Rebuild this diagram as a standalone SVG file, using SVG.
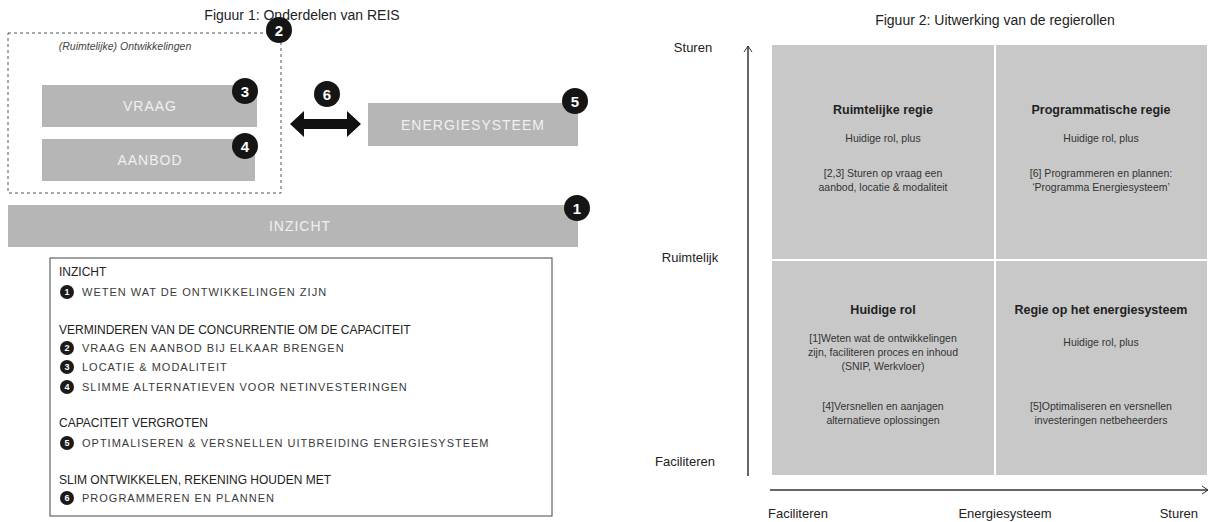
<svg xmlns="http://www.w3.org/2000/svg" width="1214" height="522" viewBox="0 0 1214 522">
<style>
  text { font-family: "Liberation Sans", Arial, sans-serif; }
  .title { font-size: 14px; fill: #222; text-anchor: middle; }
  .box { fill: #b6b6b6; }
  .boxt { font-size: 14px; fill: #f0f0f0; letter-spacing: 1px; text-anchor: middle; }
  .badge { fill: #151515; }
  .bn { font-size: 15px; font-weight: bold; fill: #ffffff; text-anchor: middle; }
  .sb { fill: #1a1a1a; }
  .sbn { font-size: 9px; font-weight: bold; fill: #ffffff; text-anchor: middle; }
  .lh { font-size: 12px; fill: #222; }
  .li { font-size: 11px; fill: #3a3a3a; letter-spacing: 1px; }
  .quad { fill: #c8c8c8; }
  .qh { font-size: 12.5px; font-weight: bold; fill: #222; text-anchor: middle; }
  .qt { font-size: 10.5px; fill: #333; text-anchor: middle; }
  .ax { font-size: 13px; fill: #222; }
  .axis { stroke: #333; stroke-width: 1.5; fill: none; }
</style>
<defs>
  <marker id="ah" markerWidth="10" markerHeight="10" refX="8" refY="5" orient="auto" markerUnits="userSpaceOnUse">
    <path d="M2,1 L8,5 L2,9" fill="none" stroke="#333" stroke-width="1"/>
  </marker>
</defs>

<!-- Figure 1 -->
<text id="fig1-title" class="title" x="302" y="20">Figuur 1: Onderdelen van REIS</text>

<g id="node-ontwikkelingen">
  <rect x="8" y="33" width="273" height="160" fill="none" stroke="#555" stroke-width="1" stroke-dasharray="3,3"/>
  <text x="125" y="50" font-size="10.5" font-style="italic" fill="#444" text-anchor="middle">(Ruimtelijke) Ontwikkelingen</text>
  <circle class="badge" cx="279" cy="30" r="13"/>
  <text class="bn" x="279" y="35.5">2</text>
</g>

<g id="node-vraag">
  <rect class="box" x="42" y="85" width="215" height="42"/>
  <text class="boxt" x="150" y="111">VRAAG</text>
  <circle class="badge" cx="245" cy="91" r="13"/>
  <text class="bn" x="245" y="96.5">3</text>
</g>

<g id="node-aanbod">
  <rect class="box" x="42" y="139" width="213" height="42"/>
  <text class="boxt" x="150" y="165">AANBOD</text>
  <circle class="badge" cx="245" cy="146" r="13"/>
  <text class="bn" x="245" y="151.5">4</text>
</g>

<g id="node-energiesysteem">
  <rect class="box" x="368" y="103" width="210" height="43"/>
  <text class="boxt" x="473" y="130">ENERGIESYSTEEM</text>
  <circle class="badge" cx="575" cy="101" r="13"/>
  <text class="bn" x="575" y="106.5">5</text>
</g>

<g id="node-inzicht">
  <rect class="box" x="8" y="205" width="570" height="42"/>
  <text class="boxt" x="300" y="231">INZICHT</text>
  <circle class="badge" cx="577" cy="208" r="13"/>
  <text class="bn" x="577" y="213.5">1</text>
</g>

<g id="connectors">
  <polygon points="290,124 304,111 304,119 347,119 347,111 361,124 347,137 347,129 304,129 304,137" fill="#111"/>
  <circle class="badge" cx="327" cy="94" r="13"/>
  <text class="bn" x="327" y="99.5">6</text>
</g>

<g id="legend">
  <rect x="50" y="258" width="502" height="258" fill="#fff" stroke="#444" stroke-width="1"/>
  <text class="lh" x="59" y="276">INZICHT</text>
  <circle class="sb" cx="67" cy="292" r="7"/><text class="sbn" x="67" y="295">1</text>
  <text class="li" x="82" y="296">WETEN WAT DE ONTWIKKELINGEN ZIJN</text>

  <text class="lh" x="59" y="334">VERMINDEREN VAN DE CONCURRENTIE OM DE CAPACITEIT</text>
  <circle class="sb" cx="67" cy="348" r="7"/><text class="sbn" x="67" y="351">2</text>
  <text class="li" x="82" y="352">VRAAG EN AANBOD BIJ ELKAAR BRENGEN</text>
  <circle class="sb" cx="67" cy="367" r="7"/><text class="sbn" x="67" y="370">3</text>
  <text class="li" x="82" y="371">LOCATIE &amp; MODALITEIT</text>
  <circle class="sb" cx="67" cy="387" r="7"/><text class="sbn" x="67" y="390">4</text>
  <text class="li" x="82" y="391">SLIMME ALTERNATIEVEN VOOR NETINVESTERINGEN</text>

  <text class="lh" x="59" y="427">CAPACITEIT VERGROTEN</text>
  <circle class="sb" cx="67" cy="443" r="7"/><text class="sbn" x="67" y="446">5</text>
  <text class="li" x="82" y="447">OPTIMALISEREN &amp; VERSNELLEN UITBREIDING ENERGIESYSTEEM</text>

  <text class="lh" x="59" y="484">SLIM ONTWIKKELEN, REKENING HOUDEN MET</text>
  <circle class="sb" cx="67" cy="498" r="7"/><text class="sbn" x="67" y="501">6</text>
  <text class="li" x="82" y="502">PROGRAMMEREN EN PLANNEN</text>
</g>

<!-- Figure 2 -->
<text id="fig2-title" class="title" x="995" y="25" font-size="13.5">Figuur 2: Uitwerking van de regierollen</text>

<g id="quad-ruimtelijke-regie">
  <rect class="quad" x="772" y="45" width="222" height="214"/>
  <text class="qh" x="883" y="114">Ruimtelijke regie</text>
  <text class="qt" x="883" y="142">Huidige rol, plus</text>
  <text class="qt" x="883" y="177">[2,3] Sturen op vraag een</text>
  <text class="qt" x="883" y="191">aanbod, locatie &amp; modaliteit</text>
</g>
<g id="quad-programmatische-regie">
  <rect class="quad" x="996" y="45" width="211" height="214"/>
  <text class="qh" x="1101" y="114">Programmatische regie</text>
  <text class="qt" x="1101" y="142">Huidige rol, plus</text>
  <text class="qt" x="1101" y="177">[6] Programmeren en plannen:</text>
  <text class="qt" x="1101" y="191">‘Programma Energiesysteem’</text>
</g>
<g id="quad-huidige-rol">
  <rect class="quad" x="772" y="261" width="222" height="214"/>
  <text class="qh" x="883" y="314">Huidige rol</text>
  <text class="qt" x="883" y="342">[1]Weten wat de ontwikkelingen</text>
  <text class="qt" x="883" y="356">zijn, faciliteren proces en inhoud</text>
  <text class="qt" x="883" y="370">(SNIP, Werkvloer)</text>
  <text class="qt" x="883" y="410">[4]Versnellen en aanjagen</text>
  <text class="qt" x="883" y="424">alternatieve oplossingen</text>
</g>
<g id="quad-regie-energiesysteem">
  <rect class="quad" x="996" y="261" width="211" height="214"/>
  <text class="qh" x="1101" y="314">Regie op het energiesysteem</text>
  <text class="qt" x="1101" y="346">Huidige rol, plus</text>
  <text class="qt" x="1101" y="410">[5]Optimaliseren en versnellen</text>
  <text class="qt" x="1101" y="424">investeringen netbeheerders</text>
</g>

<g id="axes">
  <line class="axis" x1="748" y1="476" x2="748" y2="46" marker-end="url(#ah)"/>
  <line class="axis" x1="770" y1="490" x2="1208" y2="490" marker-end="url(#ah)"/>
</g>

<g id="axis-labels">
  <text class="ax" x="693" y="52" text-anchor="middle">Sturen</text>
  <text class="ax" x="690" y="262" text-anchor="middle">Ruimtelijk</text>
  <text class="ax" x="685" y="466" text-anchor="middle">Faciliteren</text>
  <text class="ax" x="768" y="518">Faciliteren</text>
  <text class="ax" x="1005" y="518" text-anchor="middle">Energiesysteem</text>
  <text class="ax" x="1198" y="518" text-anchor="end">Sturen</text>
</g>
</svg>
